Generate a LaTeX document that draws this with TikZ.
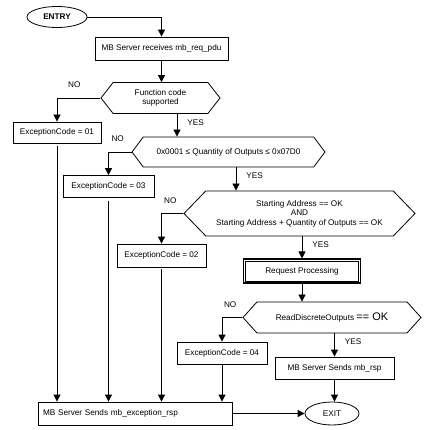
\documentclass[tikz,border=0pt]{standalone}
\usepackage{fontspec}
\setmainfont{Liberation Sans}
\usetikzlibrary{shapes.geometric,shapes.symbols,arrows.meta}

\begin{document}
\begin{tikzpicture}[x=1pt, y=-1pt,
	every node/.style={font=\fontsize{8.2}{9.6}\selectfont},
	box/.style={rectangle, draw, line width=0.8pt, inner sep=2pt},
	hexa/.style={signal, signal to=east and west, draw, line width=0.8pt, inner sep=1pt},
	oval/.style={ellipse, draw, line width=0.8pt, inner sep=1pt},
	arr/.style={line width=0.8pt, -{Triangle[length=7pt,width=7pt]}},
	lbl/.style={inner sep=1pt}]
	\useasboundingbox (0,0) rectangle (439,430);

	\node[oval, minimum width=60pt, minimum height=21pt, font={\fontsize{8.2}{9.6}\selectfont\bfseries}] (entry) at (57,17) {ENTRY};
	\node[box, minimum width=133pt, minimum height=23pt] (recv) at (161.5,48.5) {MB Server receives mb\_req\_pdu};
	\node[hexa, minimum width=119pt, minimum height=31pt, align=center, signal pointer angle=104] (fc) at (160.5,98) {Function code\\supported};
	\node[box, minimum width=88pt, minimum height=21pt] (ex01) at (57,132.5) {ExceptionCode = 01};
	\node[hexa, minimum width=193pt, minimum height=30pt, signal pointer angle=106] (qty) at (228.5,152) {0x0001 ≤ Quantity of Outputs ≤ 0x07D0};
	\node[box, minimum width=91pt, minimum height=22pt] (ex03) at (108.5,186.5) {ExceptionCode = 03};
	\node[hexa, minimum width=231pt, minimum height=45pt, align=center, signal pointer angle=92] (addr) at (299.5,213.5) {Starting Address == OK\\AND\\Starting Address + Quantity of Outputs == OK};
	\node[box, minimum width=89pt, minimum height=23pt] (ex02) at (161.5,255.5) {ExceptionCode = 02};
	\node[box, line width=1.1pt, minimum width=117pt, minimum height=24pt] (proc) at (302,271) {Request Processing};
	\draw[line width=0.6pt] ([xshift=2.5pt,yshift=-2.5pt]proc.north west) rectangle ([xshift=-2.5pt,yshift=2.5pt]proc.south east);
	\node[hexa, minimum width=178pt, minimum height=31pt, signal pointer angle=96] (read) at (332,317.5) {ReadDiscreteOutputs {\fontsize{11}{12}\selectfont == OK}};
	\node[box, minimum width=90pt, minimum height=22pt] (ex04) at (222,353) {ExceptionCode = 04};
	\node[box, minimum width=119pt, minimum height=22pt] (rsp) at (334.5,368) {MB Server Sends mb\_rsp};
	\node[box, inner xsep=5pt, text width=184pt, minimum height=23pt, align=left] (exc) at (135,413.5) {MB Server Sends mb\_exception\_rsp};
	\node[oval, minimum width=54pt, minimum height=23pt] (exit) at (332,413.5) {EXIT};

	\coordinate (yes1) at ([xshift=16.5pt]fc.south);
	\coordinate (yes2) at ([xshift=7.5pt]qty.south);

	% main line
	\draw[arr] (entry) -| (recv);
	\draw[arr] (recv) -- (recv |- fc.north);
	\draw[arr] (yes1) -- node[lbl, pos=0.37, right=9pt] {YES} (yes1 |- qty.north);
	\draw[arr] (yes2) -- node[lbl, pos=0.37, right=9pt] {YES} (yes2 |- addr.north);
	\draw[arr] (proc |- addr.south) -- node[lbl, pos=0.37, right=9pt] {YES} (proc);
	\draw[arr] (proc) -- (proc |- read.north);
	\draw[arr] (rsp |- read.south) -- node[lbl, pos=0.37, right=9pt] {YES} (rsp);
	\draw[arr] (rsp) -- (rsp |- exit.north);

	% exceptions
	\draw[arr] (fc.west) -| node[lbl, pos=0.3, above=9pt] {NO} (ex01);
	\draw[arr] (qty.west) -| node[lbl, pos=0.3, above=9pt] {NO} (ex03);
	\draw[arr] (addr.west) -| node[lbl, pos=0.3, above=9pt] {NO} (ex02);
	\draw[arr] (read.west) -| node[lbl, pos=0.3, above=9pt] {NO} (ex04);
	\draw[arr, shorten <=3pt] (ex01) -- (ex01 |- exc.north);
	\draw[arr, shorten <=3pt] (ex03) -- (ex03 |- exc.north);
	\draw[arr, shorten <=2pt] (ex02) -- (ex02 |- exc.north);
	\draw[arr] (ex04) -- (ex04 |- exc.north);
	\draw[arr] (exc) -- (exit);
\end{tikzpicture}
\end{document}
